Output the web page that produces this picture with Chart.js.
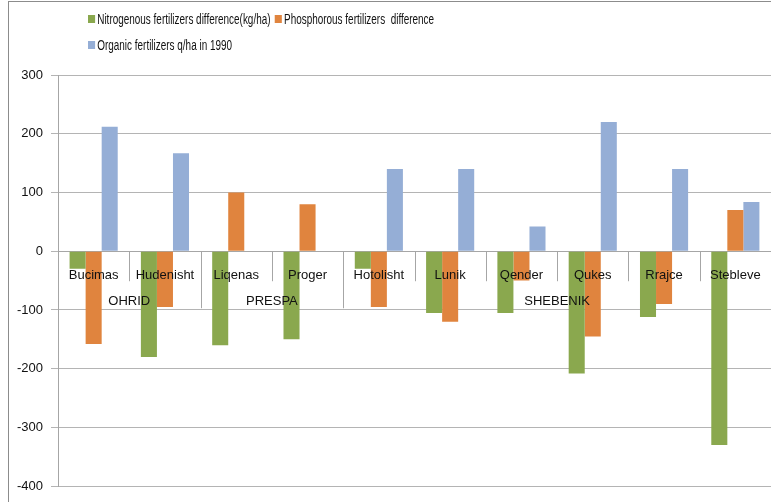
<!DOCTYPE html>
<html>
<head>
<meta charset="utf-8">
<script src="https://cdn.jsdelivr.net/npm/chart.js@4/dist/chart.umd.min.js"></script>
<style>
  body { margin: 0; background: #fff; }
  #wrap { position: relative; width: 771px; height: 502px; overflow: hidden; }
  #frame { position: absolute; left: 8px; top: 1px; width: 780px; height: 520px; border: 1px solid #8c8c8c; }
  #legend { position: absolute; left: 88px; top: 10px; font-family: "Liberation Sans", sans-serif; font-size: 14px; color: #111;
            transform: scaleX(0.71); transform-origin: 0 0; }
  .row { height: 26px; line-height: 18px; white-space: pre; }
  .item { display: inline-block; margin-right: 6px; }
  .sw { display: inline-block; width: 10px; height: 8px; margin-right: 3px; vertical-align: 1px; }
  canvas { position: absolute; left: 0; top: 0; }
</style>
</head>
<body>
<div id="wrap">
  <div id="frame"></div>
  <canvas id="chart" width="771" height="502"></canvas>
  <div id="legend"></div>
</div>
<script>
var villages = ['Bucimas', 'Hudenisht', 'Liqenas', 'Proger', 'Hotolisht', 'Lunik', 'Qender', 'Qukes', 'Rrajce', 'Stebleve'];
var regions = ['OHRID', 'PRESPA', 'SHEBENIK'];
var regionSize = [2, 2, 6];

var nitrogen = [-30, -180, -160, -150, -30, -105, -105, -208, -112, -330];
var phosphorus = [-158, -95, 100, 80, -95, -120, -50, -145, -90, 70];
var organic = [212, 167, 0, 0, 140, 140, 42, 220, 140, 84];

var yTicks = [300, 200, 100, 0, -100, -200, -300, -400];

var greenC = '#8aa84e';
var orangeC = '#e0843e';
var blueC = '#95aed6';

var FONT = '"Liberation Sans", sans-serif';

var groupPlugin = {
  id: 'groups',
  afterDatasetsDraw: function(chart) {
    var ctx = chart.ctx;
    var x = chart.scales.x;
    var y0 = chart.scales.y.getPixelForValue(0);
    var half = (x.getPixelForValue(1) - x.getPixelForValue(0)) / 2;
    ctx.save();
    ctx.strokeStyle = '#a6a6a6';
    ctx.lineWidth = 1;
    var bounds = [0];
    var acc = 0;
    for (var g = 0; g < regionSize.length; g++) {
      acc += regionSize[g];
      bounds.push(acc);
    }
    for (var i = 1; i < villages.length; i++) {
      var bx = Math.round(x.getPixelForValue(i) - half) + 0.5;
      var long = bounds.indexOf(i) >= 0;
      ctx.beginPath();
      ctx.moveTo(bx, y0);
      ctx.lineTo(bx, y0 + (long ? 57 : 30));
      ctx.stroke();
    }
    ctx.fillStyle = '#111';
    ctx.font = '13px ' + FONT;
    ctx.textAlign = 'center';
    ctx.textBaseline = 'middle';
    for (var g = 0; g < regions.length; g++) {
      var l = x.getPixelForValue(bounds[g]) - half;
      var r = x.getPixelForValue(bounds[g + 1] - 1) + half;
      ctx.fillText(regions[g], (l + r) / 2, y0 + 50);
    }
    ctx.restore();
  }
};

var chart = new Chart(document.getElementById('chart'), {
  type: 'bar',
  data: {
    labels: villages,
    datasets: [
      { label: 'Nitrogenous fertilizers difference(kg/ha)', data: nitrogen, backgroundColor: greenC },
      { label: 'Phosphorous fertilizers  difference', data: phosphorus, backgroundColor: orangeC },
      { label: 'Organic fertilizers q/ha in 1990', data: organic, backgroundColor: blueC }
    ]
  },
  options: {
    responsive: false,
    animation: false,
    layout: { padding: { top: 75, bottom: 12, left: 0, right: 0 } },
    datasets: { bar: { categoryPercentage: 0.675, barPercentage: 1 } },
    plugins: { legend: { display: false }, tooltip: { enabled: false } },
    scales: {
      x: {
        position: { y: 0 },
        grid: { display: false },
        border: { display: true, color: '#a6a6a6' },
        ticks: {
          z: 1,
          color: '#111',
          padding: 8,
          maxRotation: 0,
          autoSkip: false,
          font: { family: FONT, size: 13 }
        }
      },
      y: {
        min: -400,
        max: 300,
        afterFit: function(s) { s.width = 58; },
        afterBuildTicks: function(s) { s.ticks = yTicks.map(function(v) { return { value: v }; }); },
        grid: { color: '#b4b4b4', tickLength: 7 },
        border: { color: '#a6a6a6' },
        ticks: {
          color: '#111',
          padding: 8,
          font: { family: FONT, size: 13 }
        }
      }
    }
  },
  plugins: [groupPlugin]
});

var leg = document.getElementById('legend');
var rows = [[0, 1], [2]];
rows.forEach(function(r) {
  var row = document.createElement('div');
  row.className = 'row';
  r.forEach(function(i) {
    var ds = chart.data.datasets[i];
    var it = document.createElement('span');
    it.className = 'item';
    var sw = document.createElement('span');
    sw.className = 'sw';
    sw.style.background = ds.backgroundColor;
    it.appendChild(sw);
    it.appendChild(document.createTextNode(ds.label));
    row.appendChild(it);
  });
  leg.appendChild(row);
});
</script>
</body>
</html>
